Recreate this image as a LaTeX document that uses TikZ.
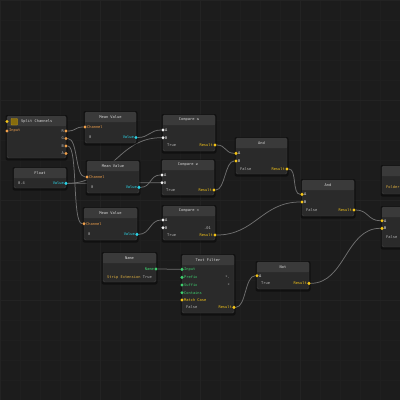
\documentclass[tikz,border=0pt]{standalone}
\usepackage{fontspec}
\setmonofont{DejaVu Sans Mono}
\usetikzlibrary{positioning}

\definecolor{canvas}{HTML}{1C1C1C}
\definecolor{gridlo}{HTML}{1F1F1F}
\definecolor{gridhi}{HTML}{232323}
\definecolor{panel}{HTML}{2A2A2A}
\definecolor{panelhead}{HTML}{3A3A3A}
\definecolor{paneledge}{HTML}{404040}
\definecolor{wirecol}{HTML}{707070}
\definecolor{portorange}{HTML}{F0A04B}
\definecolor{portcyan}{HTML}{2AD4E8}
\definecolor{portyellow}{HTML}{F5C518}
\definecolor{portgreen}{HTML}{3ECF6E}
\definecolor{portwhite}{HTML}{F0F0F0}
\definecolor{valtext}{HTML}{B8B8B8}
\definecolor{titletext}{HTML}{D8D8D8}
\definecolor{folderyel}{HTML}{E0B040}

\pgfdeclarelayer{back}
\pgfdeclarelayer{wires}
\pgfsetlayers{back,wires,main}

% graph node: name, x, y, width, height, title
\newcommand{\graphnode}[6]{%
  \fill[black, opacity=0.4, rounded corners=2pt] (#2-1.5,#3-1) rectangle (#2+#4+1.5,#3+#5+2.5);
  \node[nodebody, minimum width=#4pt, minimum height=#5pt, anchor=north west] (#1) at (#2,#3) {};
  \fill[panelhead, rounded corners=1.5pt] (#1.north west) rectangle ([yshift=-10pt]#1.north east);
  \fill[panelhead] ([yshift=-6pt]#1.north west) rectangle ([yshift=-10pt]#1.north east);
  \draw[paneledge, line width=0.4pt, rounded corners=1.5pt] (#1.north west) rectangle (#1.south east);
  \node[titlefont] (#1-title) at ([yshift=-5pt]#1.north) {#6};
}

\begin{document}
\begin{tikzpicture}[x=1pt, y=-1pt,
    nodebody/.style={fill=panel, inner sep=0pt, outer sep=0pt, rounded corners=1.5pt},
    titlefont/.style={font=\ttfamily\fontsize{3.7}{4}\selectfont, text=titletext, inner sep=0pt},
    val/.style={font=\ttfamily\fontsize{3.7}{4}\selectfont, text=valtext, inner sep=0pt},
    port/.style={circle, fill=#1, inner sep=0pt, minimum size=3.4pt, label distance=1.8pt},
    every label/.style={font=\ttfamily\fontsize{3.7}{4}\selectfont, inner sep=0pt},
    wire/.style={draw=wirecol, line width=0.75pt}]

  % Canvas and grid
  \clip (0,0) rectangle (400,400);
  \begin{pgfonlayer}{back}
    \fill[canvas] (0,0) rectangle (400,400);
    \foreach \g in {0,20,...,400} {
      \draw[gridlo, line width=0.4pt] (\g,0) -- (\g,400);
      \draw[gridlo, line width=0.4pt] (0,\g) -- (400,\g);
    }
    \foreach \g in {0,100,...,400} {
      \draw[gridhi, line width=0.6pt] (\g,0) -- (\g,400);
      \draw[gridhi, line width=0.6pt] (0,\g) -- (400,\g);
    }
  \end{pgfonlayer}

  % Split Channels
  \graphnode{split}{7}{116}{59}{42}{}
  \fill[portyellow!55!black, draw=portyellow!80!black, line width=0.4pt, rounded corners=0.6pt] (11,118.5) rectangle (17.5,125);
  \node[titlefont, anchor=west] (split-name) at (21,121.5) {Split Channels};
  \node[port=portyellow] (split-head) at (7,121.5) {};
  \node[port=portorange, label={[portorange]east:Input}] (split-in) at (7,131) {};
  \node[port=portorange, label={[valtext]west:R}] (split-r) at (66,131) {};
  \node[port=portorange, label={[valtext]west:G}] (split-g) at (66,138.5) {};
  \node[port=portorange, label={[valtext]west:B}] (split-b) at (66,146) {};
  \node[port=portorange, label={[valtext]west:A}] (split-a) at (66,153.5) {};

  % Float
  \graphnode{float}{14}{168}{52}{20}{Float}
  \node[val, anchor=west] (float-num) at (18,183.3) {0.4};
  \node[port=portcyan, label={[portcyan]west:Value}] (float-val) at (66,183.3) {};

  % Mean Value nodes
  \graphnode{mean1}{85}{112}{51}{31}{Mean Value}
  \node[port=portorange, label={[portorange]east:Channel}] (mean1-ch) at (85,127) {};
  \node[val, anchor=west] (mean1-num) at (89,137.5) {0};
  \node[port=portcyan, label={[portcyan]west:Value}] (mean1-val) at (136,137.5) {};

  \graphnode{mean2}{87}{161}{52}{32}{Mean Value}
  \node[port=portorange, label={[portorange]east:Channel}] (mean2-ch) at (87,177) {};
  \node[val, anchor=west] (mean2-num) at (91,187.3) {0};
  \node[port=portcyan, label={[portcyan]west:Value}] (mean2-val) at (139,187.3) {};

  \graphnode{mean3}{84}{208}{53}{32}{Mean Value}
  \node[port=portorange, label={[portorange]east:Channel}] (mean3-ch) at (84,223.7) {};
  \node[val, anchor=west] (mean3-num) at (88,234.3) {0};
  \node[port=portcyan, label={[portcyan]west:Value}] (mean3-val) at (137,234.3) {};

  % Compare nodes
  \graphnode{cmp1}{163}{115}{52}{36}{Compare ≤}
  \node[port=portwhite, label={[portwhite]east:A}] (cmp1-a) at (163,130) {};
  \node[port=portwhite, label={[portwhite]east:B}] (cmp1-b) at (163,137.7) {};
  \node[val, anchor=west] (cmp1-bool) at (167,145) {True};
  \node[port=portyellow, label={[portyellow]west:Result}] (cmp1-res) at (215,145) {};

  \graphnode{cmp2}{162}{160}{52}{35}{Compare ≥}
  \node[port=portwhite, label={[portwhite]east:A}] (cmp2-a) at (162,175) {};
  \node[port=portwhite, label={[portwhite]east:B}] (cmp2-b) at (162,182.7) {};
  \node[val, anchor=west] (cmp2-bool) at (166,190) {True};
  \node[port=portyellow, label={[portyellow]west:Result}] (cmp2-res) at (214,190) {};

  \graphnode{cmp3}{163}{206}{52}{34}{Compare ≈}
  \node[port=portwhite, label={[portwhite]east:A}] (cmp3-a) at (163,220) {};
  \node[port=portwhite, label={[portwhite]east:B}] (cmp3-b) at (163,227.7) {};
  \node[val, anchor=east] (cmp3-tol) at (211,227.7) {.01};
  \node[val, anchor=west] (cmp3-bool) at (167,235) {True};
  \node[port=portyellow, label={[portyellow]west:Result}] (cmp3-res) at (215,235) {};

  % And nodes
  \graphnode{and1}{236}{138}{51}{36}{And}
  \node[port=portyellow, label={[portwhite]east:A}] (and1-a) at (236,153.3) {};
  \node[port=portyellow, label={[portwhite]east:B}] (and1-b) at (236,161) {};
  \node[val, anchor=west] (and1-bool) at (240,169) {False};
  \node[port=portyellow, label={[portyellow]west:Result}] (and1-res) at (287,169) {};

  \graphnode{and2}{302}{180}{52}{36}{And}
  \node[port=portyellow, label={[portwhite]east:A}] (and2-a) at (302,194.3) {};
  \node[port=portyellow, label={[portwhite]east:B}] (and2-b) at (302,202) {};
  \node[val, anchor=west] (and2-bool) at (306,210) {False};
  \node[port=portyellow, label={[portyellow]west:Result}] (and2-res) at (354,210) {};

  % Nodes cut by the right edge
  \graphnode{folder}{382}{166}{40}{28}{}
  \node[val, text=folderyel, anchor=west] (folder-lbl) at (386,187) {Folder};

  \graphnode{last}{382}{207}{40}{40}{}
  \node[port=portyellow, label={[portwhite]east:A}] (last-a) at (382,220.7) {};
  \node[port=portyellow, label={[portwhite]east:B}] (last-b) at (382,228.3) {};
  \node[val, anchor=west] (last-bool) at (386,236.7) {False};

  % Name, Text Filter, Not
  \graphnode{name}{103}{253}{53}{29}{Name}
  \node[port=portgreen, label={[portgreen]west:Name}] (name-val) at (156,269) {};
  \node[val, text=folderyel, anchor=west] (name-strip) at (107,277) {Strip Extension};
  \node[val, anchor=east] (name-bool) at (152,277) {True};

  \graphnode{tf}{182}{255}{52}{58}{Text Filter}
  \node[port=portgreen, label={[portgreen]east:Input}] (tf-in) at (182,269.3) {};
  \node[port=portgreen, label={[portgreen]east:Prefix}] (tf-pre) at (182,277.3) {};
  \node[port=portgreen, label={[portgreen]east:Suffix}] (tf-suf) at (182,285) {};
  \node[port=portgreen, label={[portgreen]east:Contains}] (tf-con) at (182,292.7) {};
  \node[port=portyellow, label={[portyellow]east:Match Case}] (tf-case) at (182,300) {};
  \node[val, anchor=east] (tf-prestr) at (230,277.3) {*.};
  \node[val, anchor=east] (tf-sufstr) at (230,285) {*};
  \node[val, anchor=west] (tf-bool) at (186,307.3) {False};
  \node[port=portyellow, label={[portyellow]west:Result}] (tf-res) at (234,307.3) {};

  \graphnode{not}{257}{262}{52}{27}{Not}
  \node[port=portyellow, label={[portwhite]east:A}] (not-a) at (257,275.7) {};
  \node[val, anchor=west] (not-bool) at (261,283.3) {True};
  \node[port=portyellow, label={[portyellow]west:Result}] (not-res) at (309,283.3) {};

  % Wires
  \begin{pgfonlayer}{wires}
    \draw[wire] (split-r) .. controls +(10,0) and +(-10,0) .. (mean1-ch);
    \draw[wire] (split-g) .. controls +(12,0) and +(-12,0) .. (mean2-ch);
    \draw[wire] (split-b) .. controls +(12,0) and +(-12,0) .. (mean3-ch);
    \draw[wire] (mean1-val) .. controls +(13,0) and +(-13,0) .. (cmp1-a);
    \draw[wire] (float-val) .. controls +(45,0) and +(-45,0) .. (cmp1-b);
    \draw[wire] (mean2-val) .. controls +(12,0) and +(-12,0) .. (cmp2-a);
    \draw[wire] (float-val) .. controls +(45,0) and +(-45,0) .. (cmp2-b);
    \draw[wire] (mean3-val) .. controls +(13,0) and +(-13,0) .. (cmp3-a);
    \draw[wire] (cmp1-res) .. controls +(11,0) and +(-11,0) .. (and1-a);
    \draw[wire] (cmp2-res) .. controls +(11,0) and +(-11,0) .. (and1-b);
    \draw[wire] (and1-res) .. controls +(10,0) and +(-10,0) .. (and2-a);
    \draw[wire] (cmp3-res) .. controls +(40,0) and +(-40,0) .. (and2-b);
    \draw[wire] (and2-res) .. controls +(14,0) and +(-14,0) .. (last-a);
    \draw[wire] (not-res) .. controls +(36,0) and +(-36,0) .. (last-b);
    \draw[wire] (tf-res) .. controls +(12,0) and +(-12,0) .. (not-a);
    \draw[wire] (name-val) .. controls +(13,0) and +(-13,0) .. (tf-in);
  \end{pgfonlayer}
\end{tikzpicture}
\end{document}
